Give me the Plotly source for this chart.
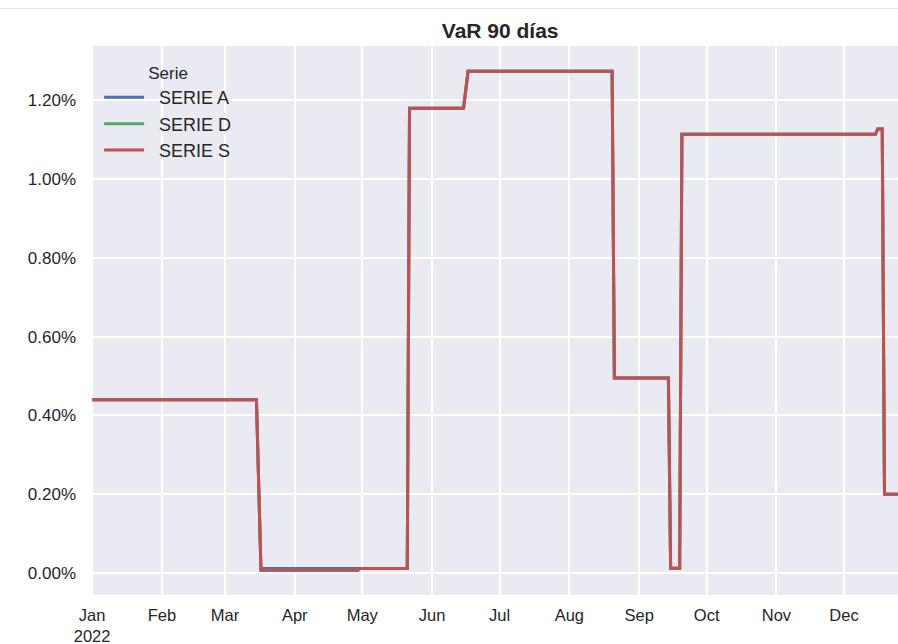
import plotly.graph_objects as go

# Breakpoint dates and values (percent)
dates_S = ["2022-01-01", "2022-03-15", "2022-03-17", "2022-04-29", "2022-04-30",
           "2022-05-21", "2022-05-22", "2022-06-15", "2022-06-17", "2022-08-20",
           "2022-08-21", "2022-09-14", "2022-09-15", "2022-09-19", "2022-09-20",
           "2022-12-15", "2022-12-16", "2022-12-18", "2022-12-19", "2022-12-31"]
serie_S = [0.44, 0.44, 0.007, 0.007, 0.011,
           0.011, 1.18, 1.18, 1.274, 1.274,
           0.495, 0.495, 0.012, 0.012, 1.114,
           1.114, 1.127, 1.127, 0.20, 0.20]
serie_A = [0.44, 0.44, 0.011, 0.011, 0.011,
           0.011, 1.18, 1.18, 1.274, 1.274,
           0.495, 0.495, 0.012, 0.012, 1.114,
           1.114, 1.127, 1.127, 0.20, 0.20]
serie_D = [0.44, 0.44, 0.007, 0.007, 0.011,
           0.011, 1.18, 1.18, 1.274, 1.274,
           0.495, 0.495, 0.012, 0.012, 1.114,
           1.114, 1.127, 1.127, 0.20, 0.20]

series_names = ["SERIE A", "SERIE D", "SERIE S"]
series_colors = ["#4C72B0", "#55A868", "#C44E52"]

x_tickvals = ["2022-01-01", "2022-02-01", "2022-03-01", "2022-04-01", "2022-05-01",
              "2022-06-01", "2022-07-01", "2022-08-01", "2022-09-01", "2022-10-01",
              "2022-11-01", "2022-12-01"]
x_ticktext = ["Jan<br>2022", "Feb", "Mar", "Apr", "May", "Jun", "Jul", "Aug",
              "Sep", "Oct", "Nov", "Dec"]
y_tickvals = [0.0, 0.2, 0.4, 0.6, 0.8, 1.0, 1.2]
y_ticktext = ["0.00%", "0.20%", "0.40%", "0.60%", "0.80%", "1.00%", "1.20%"]

FONT = "Liberation Sans, Arial, Helvetica, sans-serif"
TXT = "#262626"

fig = go.Figure()
for name, vals, col in zip(series_names, [serie_A, serie_D, serie_S], series_colors):
    fig.add_trace(go.Scatter(x=dates_S, y=vals, mode="lines",
                             name="\u00a0\u00a0" + name,
                             line=dict(color=col, width=3)))

fig.update_layout(
    width=898, height=644,
    margin=dict(l=91, r=0, t=46, b=49, autoexpand=False),
    paper_bgcolor="white",
    plot_bgcolor="#EAEAF2",
    font=dict(family=FONT, size=17, color=TXT),
    title=dict(text="<b>VaR 90 días</b>", x=0.557, xanchor="center",
               y=0.953, yanchor="middle", font=dict(size=21, color=TXT)),
    legend=dict(x=0.01, y=0.98, xanchor="left", yanchor="top",
                bgcolor="rgba(0,0,0,0)", borderwidth=0,
                font=dict(size=18, color=TXT),
                itemwidth=40,
                title=dict(text="Serie", side="top center", font=dict(size=17, color=TXT)),
                tracegroupgap=0),
    showlegend=True,
)
fig.update_xaxes(
    type="date", automargin=False,
    range=["2021-12-31 12:00", "2022-12-25"],
    tickvals=x_tickvals, ticktext=x_ticktext,
    showgrid=True, gridcolor="white", gridwidth=1.5,
    zeroline=False, showline=False, ticks="",
    ticklabelstandoff=8,
    tickfont=dict(size=16.5, color=TXT),
)
fig.update_yaxes(
    automargin=False,
    range=[-0.056, 1.338],
    tickvals=y_tickvals, ticktext=y_ticktext,
    showgrid=True, gridcolor="white", gridwidth=1.5,
    zeroline=False, showline=False, ticks="",
    ticklabelstandoff=14,
    tickfont=dict(size=17, color=TXT),
)
fig.add_shape(type="line", xref="paper", yref="paper",
              x0=-0.2, x1=1.0, y0=1.0683, y1=1.0683,
              line=dict(color="#e3e3e3", width=1))

fig.write_html("out.html",
               config={"displayModeBar": False},
               post_script="document.body.style.margin='0';document.body.style.overflow='hidden';")
